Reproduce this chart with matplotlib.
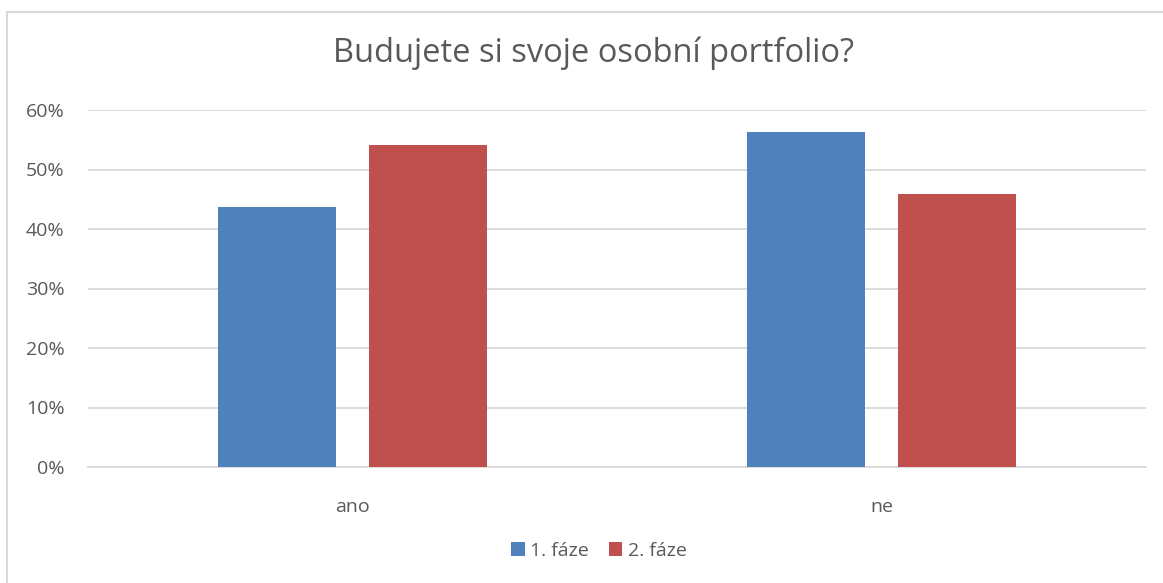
import numpy as np
import matplotlib.pyplot as plt
from matplotlib.patches import Rectangle
from matplotlib.ticker import PercentFormatter

plt.rcParams['font.family'] = ['Open Sans', 'DejaVu Sans']

categories = ['ano', 'ne']
series_names = ['1. fáze', '2. fáze']
faze1 = [0.4375, 0.5625]
faze2 = [0.541, 0.459]
colors = ['#4f81bd', '#c0504d']
txt = '#595959'
grid = '#d9d9d9'

fig = plt.figure(figsize=(11.63, 5.83), dpi=100)
ax = fig.add_axes([88/1163, 1-467/583, (1146-88)/1163, (467-110)/583])

x = np.arange(len(categories))
w = 0.223
off = 0.143
ax.bar(x - off, faze1, w, color=colors[0], label=series_names[0], zorder=3)
ax.bar(x + off, faze2, w, color=colors[1], label=series_names[1], zorder=3)

ax.set_xlim(-0.5, 1.5)
ax.set_ylim(0, 0.6)
ax.set_yticks(np.arange(0, 0.61, 0.1))
ax.yaxis.set_major_formatter(PercentFormatter(1.0, decimals=0))
ax.set_xticks(x)
ax.set_xticklabels(categories)
ax.grid(axis='y', color=grid, linewidth=1.3, zorder=0)
for s in ['top', 'right', 'left']:
    ax.spines[s].set_visible(False)
ax.spines['bottom'].set_color(grid)
ax.spines['bottom'].set_linewidth(1.3)
ax.tick_params(axis='both', length=0, colors=txt, labelsize=14)
ax.tick_params(axis='y', pad=17)
ax.tick_params(axis='x', pad=22)

fig.text(0.51, 1-53/583, 'Budujete si svoje osobní portfolio?', ha='center', va='center',
         fontsize=23.5, color=txt)

leg = fig.legend(loc='center', bbox_to_anchor=(0.515, 1-551/583), ncol=2, frameon=False,
                 fontsize=14, handlelength=0.7, handleheight=0.7, handletextpad=0.3,
                 columnspacing=1.0)
for t in leg.get_texts():
    t.set_color(txt)

fig.patches.append(Rectangle((7/1163, -0.01), 1.02, 1-12/583 + 0.01, transform=fig.transFigure,
                             fill=False, edgecolor=grid, linewidth=1.5))

fig.savefig('out.png', dpi=100)
